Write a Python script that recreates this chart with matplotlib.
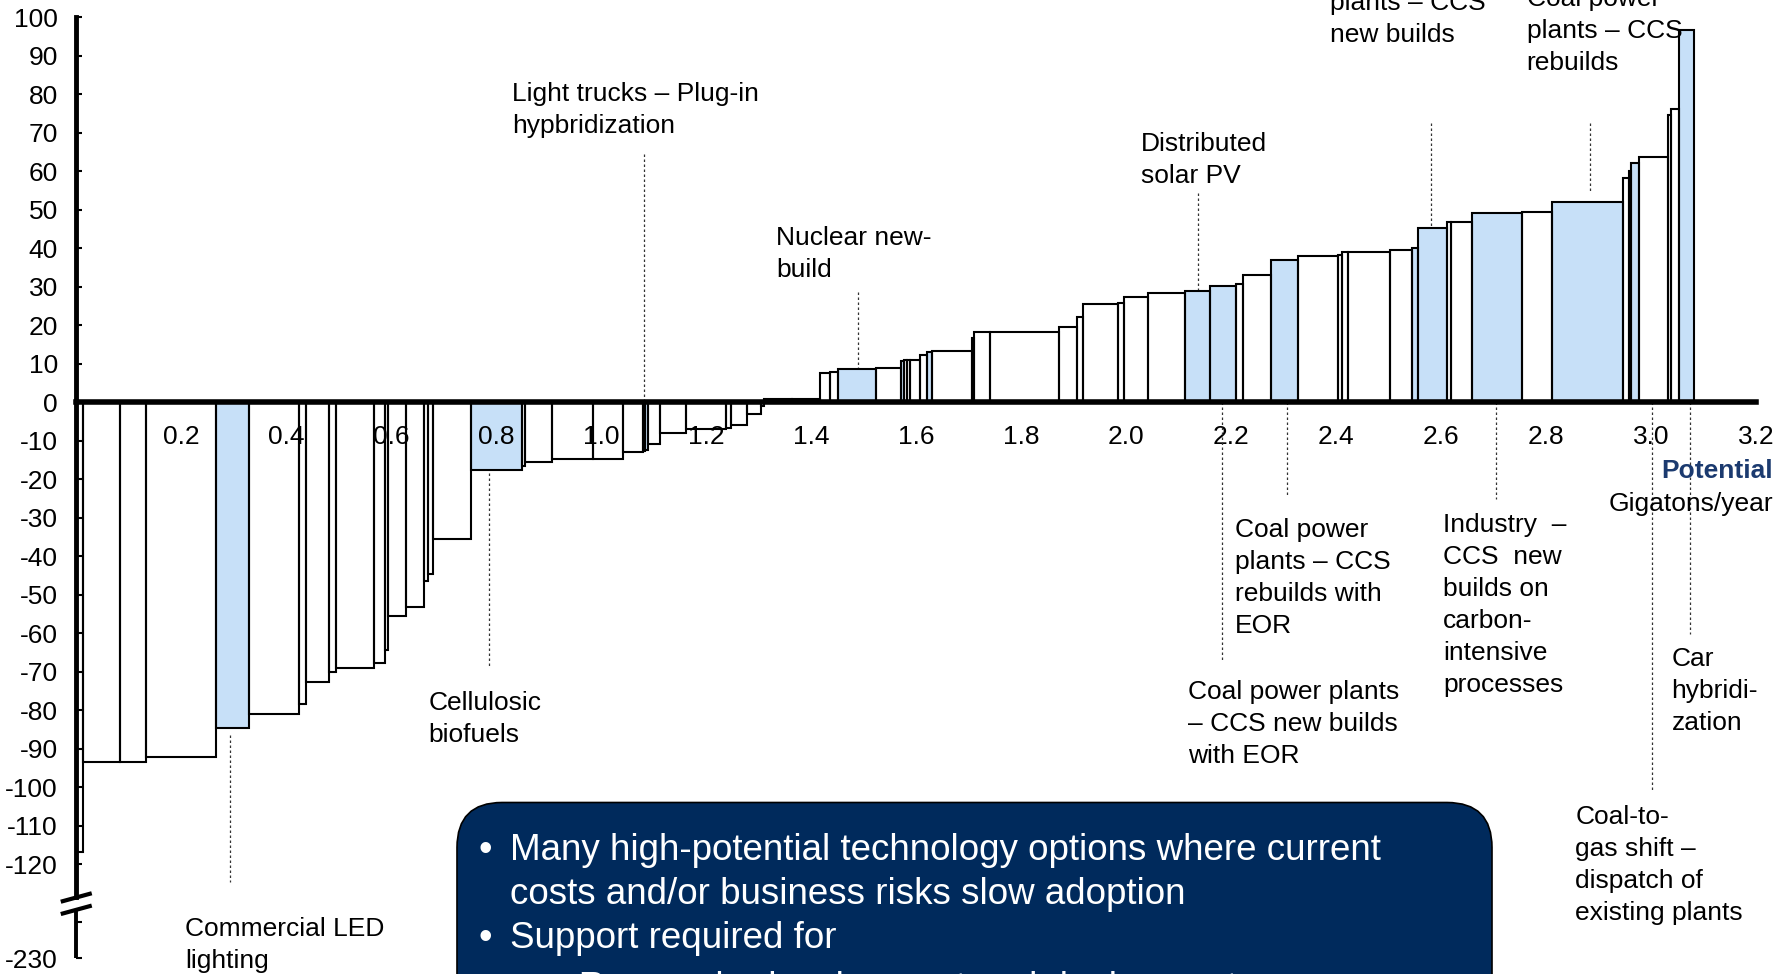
import numpy as np
import matplotlib.pyplot as plt
from matplotlib.patches import FancyBboxPatch
from matplotlib.transforms import IdentityTransform

plt.rcParams['font.family'] = ['Liberation Sans', 'DejaVu Sans']

# abatement potential of each option (Gt/year), in merit order
potentials = [0.013, 0.070, 0.050, 0.134, 0.062, 0.095, 0.015, 0.042, 0.015, 0.071,
              0.022, 0.006, 0.034, 0.034, 0.007, 0.010, 0.073, 0.097, 0.006, 0.051,
              0.078, 0.056, 0.039, 0.004, 0.006, 0.022, 0.049, 0.078, 0.009, 0.030,
              0.026, 0.007,
              0.052, 0.055, 0.019, 0.014, 0.073, 0.048, 0.006, 0.004, 0.007, 0.019,
              0.013, 0.009, 0.077, 0.003, 0.031, 0.131, 0.035, 0.012, 0.065, 0.013,
              0.044, 0.072, 0.047, 0.050, 0.012, 0.055, 0.050, 0.077, 0.007, 0.011,
              0.081, 0.042, 0.011, 0.055, 0.008, 0.040, 0.095, 0.057, 0.136, 0.012,
              0.003, 0.016, 0.055, 0.005, 0.016, 0.027]

# cost of abatement for each option
costs = [-117, -93.5, -93.5, -92.3, -84.6, -81.1, -78.5, -72.8, -70.2, -69.1,
         -67.7, -64.3, -55.7, -53.2, -46.5, -44.8, -35.7, -17.7, -16.5, -15.6,
         -14.7, -14.7, -13.0, -12.6, -12.4, -10.9, -8.1, -7.0, -6.8, -6.1,
         -3.0, -1.1,
         0.7, 0.9, 7.5, 7.8, 8.7, 8.8, 10.7, 10.9, 10.9, 10.9,
         12.1, 12.9, 13.3, 16.6, 18.1, 18.1, 19.6, 22.2, 25.4, 25.6,
         27.4, 28.2, 28.8, 30.1, 30.6, 33.1, 37.0, 37.8, 38.1, 39.0,
         39.0, 39.5, 40.1, 45.1, 46.8, 46.8, 49.2, 49.4, 51.9, 58.2,
         60.0, 62.2, 63.6, 74.5, 76.2, 96.7]

# options that are technology-driven (shaded)
highlighted = [4, 17, 24, 36, 38, 43, 54, 55, 58, 64, 65, 68, 70, 73, 77]

x_ticks = [0.2, 0.4, 0.6, 0.8, 1.0, 1.2, 1.4, 1.6, 1.8, 2.0, 2.2, 2.4, 2.6, 2.8, 3.0, 3.2]
y_ticks = list(range(100, -121, -10))
y_bottom_label = '-230'

box_lines = ["Many high-potential technology options where current",
             "costs and/or business risks slow adoption",
             "Support required for",
             "– Research, development and deployment"]

W, H = 1790, 974
X0, XS = 76, 525.0      # pixel of x=0, pixels per Gt
Y0, YS = 402, 3.85      # pixel of y=0, pixels per unit
Y_BREAK_BOTTOM = -144.5  # where -230 is drawn
LINE_STEP = 8.3
BLUE = '#C7E0F8'
NAVY = '#002A5C'


def main():
    fig = plt.figure(figsize=(W / 100, H / 100), dpi=100)
    ax = fig.add_axes([0, 0, 1, 1])
    ax.set_xlim(-X0 / XS, (W - X0) / XS)
    ax.set_ylim((Y0 - H) / YS, Y0 / YS)
    ax.patch.set_visible(False)

    lefts = np.concatenate([[0], np.cumsum(potentials)[:-1]])
    fills = ['white'] * len(costs)
    for i in highlighted:
        fills[i] = BLUE
    ax.bar(lefts, costs, width=potentials, align='edge', color=fills,
           edgecolor='none', zorder=1)
    ax.bar(lefts, costs, width=potentials, align='edge', facecolor='none',
           edgecolor='black', linewidth=1.5, zorder=3)

    # axes
    for s in ['top', 'right']:
        ax.spines[s].set_visible(False)
    ax.spines['bottom'].set_position(('data', 0))
    ax.spines['bottom'].set_bounds(0, 3.2)
    ax.spines['bottom'].set_linewidth(4)
    ax.spines['bottom'].set_zorder(4)
    ax.spines['left'].set_position(('data', 0))
    ax.spines['left'].set_bounds(-128.7, 100)
    ax.spines['left'].set_linewidth(3.5)
    ax.spines['left'].set_zorder(4)
    ax.plot([0, 0], [-131.9, Y_BREAK_BOTTOM], color='black', lw=2.8, zorder=4,
            solid_capstyle='butt')
    for yb in (-128.7, -131.9):
        ax.plot([-0.029, 0.030], [yb - 1.1, yb + 1.1], color='black', lw=3,
                zorder=5, solid_capstyle='butt')

    ax.set_xticks(x_ticks, ['%.1f' % v for v in x_ticks])
    ax.tick_params(axis='x', length=0, pad=16.5, labelsize=19)
    ax.set_yticks(y_ticks + [-135, Y_BREAK_BOTTOM],
                  [str(v) for v in y_ticks] + ['', y_bottom_label])
    ax.tick_params(axis='y', direction='in', length=4, width=1.5, pad=13,
                   labelsize=19)

    # callouts: text, text x, first line y, line x, line y from, line y to
    callouts = [
        ("Light trucks – Plug-in\nhypbridization", 0.830, 80.1, 1.082, 64.4, 0),
        ("Nuclear new-\nbuild", 1.334, 42.7, 1.490, 28.5, 8.7),
        ("Distributed\nsolar PV", 2.028, 67.0, 2.138, 54.2, 28.8),
        ("Coal power\nplants – CCS\nnew builds", 2.388, 111.9, 2.581, 72.4, 45.1),
        ("Coal power\nplants – CCS\nrebuilds", 2.763, 104.6, 2.884, 72.4, 54.2),
        ("Cellulosic\nbiofuels", 0.671, -78.3, 0.786, -18.4, -68.9),
        ("Commercial LED\nlighting", 0.208, -137.0, 0.294, -86.5, -124.6),
        ("Coal power\nplants – CCS\nrebuilds with\nEOR", 2.208, -33.2, 2.307, 0, -24.6),
        ("Coal power plants\n– CCS new builds\nwith EOR", 2.119, -75.3, 2.183, 0, -67.6),
        ("Industry  –\nCCS  new\nbuilds on\ncarbon-\nintensive\nprocesses", 2.604, -32.0, 2.705, 0, -25.2),
        ("Car\nhybridi-\nzation", 3.039, -66.7, 3.075, 0, -60.2),
        ("Coal-to-\ngas shift –\ndispatch of\nexisting plants", 2.856, -107.9, 3.001, 0, -100.8),
    ]
    for text, tx, ty, lx, ly0, ly1 in callouts:
        for i, line in enumerate(text.split('\n')):
            ax.text(tx, ty - i * LINE_STEP, line, ha='left', va='center',
                    fontsize=19, zorder=6)
        ax.plot([lx, lx], [ly0, ly1], color='#333333', lw=0.9,
                linestyle=(0, (2, 2)), zorder=2)

    ax.text(3.232, -18.0, 'Potential', ha='right', va='center', fontsize=19,
            fontweight='bold', color='#1B3A6F')
    ax.text(3.232, -26.6, 'Gigatons/year', ha='right', va='center', fontsize=19)

    # message box, partly cut by the bottom edge
    box = FancyBboxPatch((457, -60), 1492 - 457, 171.5 + 60,
                         boxstyle='round,pad=0,rounding_size=45',
                         transform=IdentityTransform(), facecolor=NAVY,
                         edgecolor='black', linewidth=1.2)
    fig.add_artist(box)
    idt = IdentityTransform()
    rows = [(True, 510, 123.0), (False, 510, 79.7), (True, 510, 35.0), (False, 548, -14.0)]
    for (bullet, x, y), line in zip(rows, box_lines):
        if bullet:
            fig.text(485, y, '•', transform=idt, color='white', fontsize=28,
                     ha='center', va='center')
        fig.text(x, y, line, transform=idt, color='white', fontsize=26.5,
                 ha='left', va='center')

    fig.savefig('out.png', dpi=100)


if __name__ == "__main__":
    main()
